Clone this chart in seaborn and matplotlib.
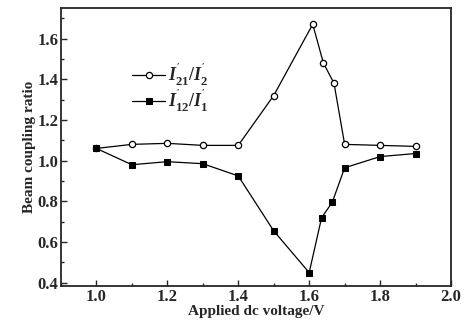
import numpy as np
import pandas as pd
import seaborn as sns
from matplotlib import pyplot as plt
from matplotlib.ticker import MultipleLocator

# 데이터
v_open = [1.0, 1.1, 1.2, 1.3, 1.4, 1.5, 1.61, 1.64, 1.67, 1.70, 1.80, 1.90]
r_open = [1.06, 1.08, 1.085, 1.075, 1.075, 1.32, 1.67, 1.48, 1.38, 1.08, 1.075, 1.07]
v_fill = [1.0, 1.1, 1.2, 1.3, 1.4, 1.5, 1.60, 1.635, 1.665, 1.70, 1.80, 1.90]
r_fill = [1.06, 0.98, 0.995, 0.985, 0.925, 0.655, 0.45, 0.72, 0.795, 0.965, 1.02, 1.035]
labels = [r"$I^{'}_{21}/I^{'}_{2}$", r"$I^{'}_{12}/I^{'}_{1}$"]
xticks = [1.0, 1.2, 1.4, 1.6, 1.8, 2.0]
yticks = [0.4, 0.6, 0.8, 1.0, 1.2, 1.4, 1.6]

sns.set_style('ticks')
plt.rcParams['font.family'] = ['Liberation Serif', 'DejaVu Serif']
plt.rcParams['mathtext.fontset'] = 'custom'
plt.rcParams['mathtext.it'] = 'Liberation Serif:italic:bold'
plt.rcParams['mathtext.rm'] = 'Liberation Serif:bold'

fig = plt.figure(figsize=(4.65, 3.32), dpi=100)
ax = fig.add_axes([0.131, 0.139, 0.839, 0.837])

sns.lineplot(x=v_open, y=r_open, ax=ax, color='black', lw=0.9, marker='o',
             markersize=4.5, markerfacecolor='white', markeredgecolor='black',
             markeredgewidth=0.9, label=labels[0])
sns.lineplot(x=v_fill, y=r_fill, ax=ax, color='black', lw=0.9, marker='s',
             markersize=4.5, markerfacecolor='black', markeredgecolor='black',
             label=labels[1])

ax.set_xticks(xticks)
ax.set_xticklabels(['%.1f' % t for t in xticks], fontweight='bold')
ax.set_yticks(yticks)
ax.set_yticklabels(['%.1f' % t for t in yticks], fontweight='bold')
ax.xaxis.set_minor_locator(MultipleLocator(0.1))
ax.yaxis.set_minor_locator(MultipleLocator(0.1))
ax.set_xlim(0.9, 2.0)
ax.set_ylim(0.385, 1.75)
ax.tick_params(which='both', direction='in', top=False, right=False, width=1.0)
ax.tick_params(which='major', length=4, labelsize=12, pad=2)
ax.tick_params(which='minor', length=2.5)
for s in ax.spines.values():
    s.set_linewidth(1.3)

ax.set_xlabel('Applied dc voltage/V', fontsize=11, fontweight='bold', labelpad=0)
ax.set_ylabel('Beam coupling ratio', fontsize=11, fontweight='bold', labelpad=1)

ax.legend(loc='upper left', bbox_to_anchor=(0.16, 0.84), frameon=False,
          fontsize=13, handlelength=1.8, handletextpad=0.2, labelspacing=0.0,
          borderpad=0)

fig.savefig('out.png', dpi=100)
